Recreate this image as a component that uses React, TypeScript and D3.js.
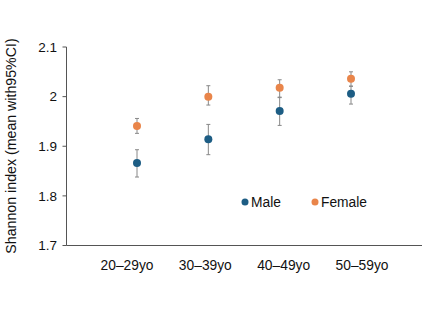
import React from "react";
import * as d3 from "d3";

const categories = ["20–29yo", "30–39yo", "40–49yo", "50–59yo"];
const maleMean = [1.866, 1.914, 1.971, 2.006];
const maleLow = [1.838, 1.883, 1.942, 1.985];
const maleHigh = [1.893, 1.944, 1.999, 2.021];
const femaleMean = [1.941, 2.0, 2.018, 2.036];
const femaleLow = [1.926, 1.983, 1.998, 2.021];
const femaleHigh = [1.956, 2.022, 2.034, 2.05];
const yTicks = [1.7, 1.8, 1.9, 2.0, 2.1];
const yTickLabels = ["1.7", "1.8", "1.9", "2", "2.1"];
const legendLabels = ["Male", "Female"];

const MALE = "#1d5d84";
const FEMALE = "#e9854a";
const FONT = "'Liberation Sans', Arial, Helvetica, sans-serif";

export default function App() {
  const W = 435, H = 326;
  const axisX = 66.5, axisY = 245.5, axisRight = 422;
  const y = d3.scaleLinear().domain([1.7, 2.1]).range([axisY, 47]);
  const xPts = d3.scalePoint<string>().domain(categories).range([137, 351]);
  const xLab = d3.scalePoint<string>().domain(categories).range([127, 362]);

  const series = [
    { name: legendLabels[0], color: MALE, mean: maleMean, lo: maleLow, hi: maleHigh },
    { name: legendLabels[1], color: FEMALE, mean: femaleMean, lo: femaleLow, hi: femaleHigh },
  ];

  return (
    <svg width={W} height={H} style={{ position: "absolute", left: 0, top: 0, background: "#fff" }} fontFamily={FONT}>
      {/* axes */}
      <line x1={axisX} x2={axisX} y1={y(2.1)} y2={axisY} stroke="#555" strokeWidth={1} />
      <line x1={axisX} x2={axisRight} y1={axisY} y2={axisY} stroke="#555" strokeWidth={1} />
      {yTicks.map((t, i) => (
        <g key={t}>
          <line x1={axisX - 4} x2={axisX} y1={y(t)} y2={y(t)} stroke="#555" strokeWidth={1} />
          <text x={57} y={y(t)} dy="0.35em" textAnchor="end" fontSize={13.5} fill="#111">
            {yTickLabels[i]}
          </text>
        </g>
      ))}
      {categories.map((c) => (
        <text key={c} x={xLab(c)} y={270} textAnchor="middle" fontSize={13.8} fill="#111">
          {c}
        </text>
      ))}
      <text
        transform={`translate(16,${146}) rotate(-90)`}
        textAnchor="middle"
        fontSize={14.2}
        fill="#111"
      >
        Shannon index (mean with95%CI)
      </text>
      {/* data */}
      {series.map((s) =>
        categories.map((c, i) => {
          const cx = xPts(c)!;
          return (
            <g key={s.name + c}>
              <line x1={cx} x2={cx} y1={y(s.lo[i])} y2={y(s.hi[i])} stroke="#888" strokeWidth={1} />
              <line x1={cx - 2} x2={cx + 2} y1={y(s.lo[i])} y2={y(s.lo[i])} stroke="#888" strokeWidth={1} />
              <line x1={cx - 2} x2={cx + 2} y1={y(s.hi[i])} y2={y(s.hi[i])} stroke="#888" strokeWidth={1} />
              <circle cx={cx} cy={y(s.mean[i])} r={4} fill={s.color} />
            </g>
          );
        })
      )}
      {/* legend */}
      {series.map((s, i) => (
        <g key={s.name} transform={`translate(${245 + i * 70},202)`}>
          <circle cx={0} cy={0} r={3.5} fill={s.color} />
          <text x={6} y={0} dy="0.36em" fontSize={13.8} fill="#111">
            {s.name}
          </text>
        </g>
      ))}
    </svg>
  );
}
